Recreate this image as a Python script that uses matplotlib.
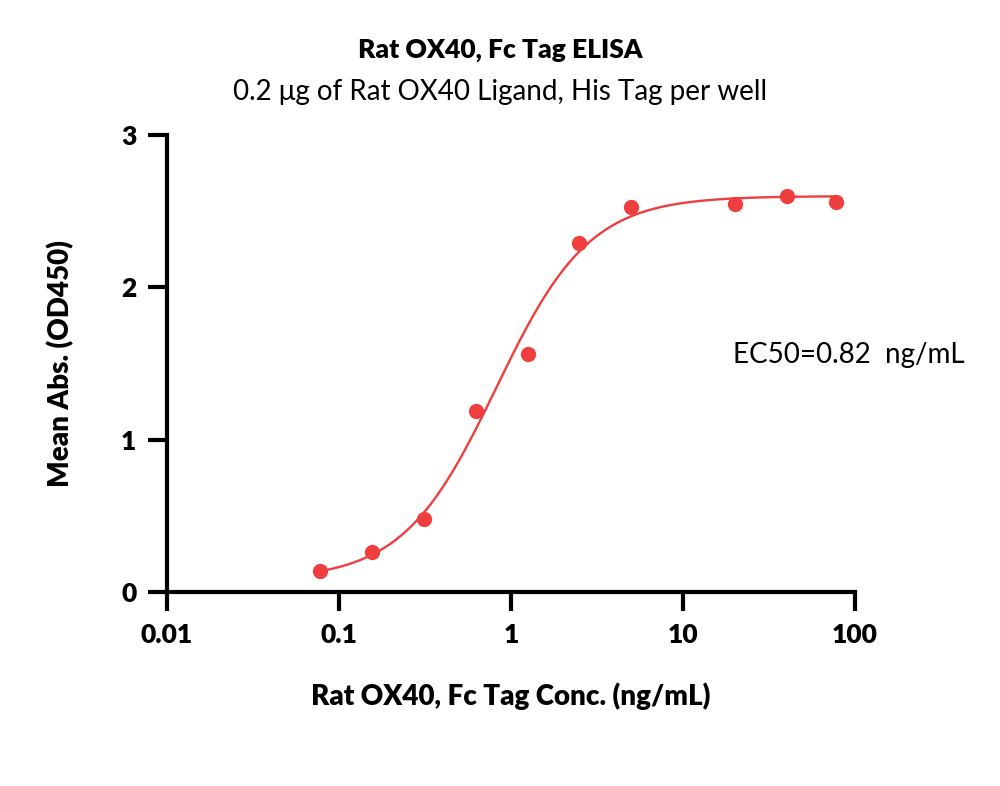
import numpy as np
import matplotlib
matplotlib.use('Agg')
import matplotlib.pyplot as plt
from matplotlib.ticker import FixedLocator, FixedFormatter, NullLocator

# concentration of Rat OX40, Fc Tag (ng/mL) and mean absorbance
conc = [0.078, 0.156, 0.3125, 0.625, 1.25, 2.5, 5, 20, 40, 78]
od450 = [0.14, 0.26, 0.48, 1.19, 1.56, 2.29, 2.53, 2.55, 2.60, 2.56]

# four parameter logistic fit
bottom = 0.08
top = 2.60
ec50 = 0.82
hill = 1.6

x_ticks = [0.01, 0.1, 1, 10, 100]
x_tick_labels = ['0.01', '0.1', '1', '10', '100']
y_ticks = [0, 1, 2, 3]

red = '#F03E3E'

plt.rcParams['font.family'] = ['Lato', 'DejaVu Sans']

fig = plt.figure(figsize=(10, 7.86), dpi=100)
ax = fig.add_axes([0.167, 0.2468, 0.688, 0.5812])

xfit = np.logspace(np.log10(conc[0]), np.log10(conc[-1]), 300)
yfit = bottom + (top - bottom) / (1 + (ec50 / xfit) ** hill)
ax.plot(xfit, yfit, color=red, lw=1.7, zorder=2)
ax.plot(conc, od450, 'o', color=red, ms=11, mec='none', zorder=3, clip_on=False)

ax.set_xscale('log')
ax.set_xlim(0.01, 100)
ax.set_ylim(0, 3)
ax.xaxis.set_major_locator(FixedLocator(x_ticks))
ax.xaxis.set_major_formatter(FixedFormatter(x_tick_labels))
ax.xaxis.set_minor_locator(NullLocator())
ax.set_yticks(y_ticks)

for side in ['top', 'right']:
    ax.spines[side].set_visible(False)
for side in ['left', 'bottom']:
    ax.spines[side].set_linewidth(3.0)
ax.tick_params(width=3.0, length=14, labelsize=19, pad=8)
for lab in ax.get_xticklabels() + ax.get_yticklabels():
    lab.set_fontweight('heavy')

ax.set_xlabel('Rat OX40, Fc Tag Conc. (ng/mL)', fontsize=20, fontweight='heavy', labelpad=26)
ax.set_ylabel('Mean Abs. (OD450)', fontsize=20, fontweight='heavy', labelpad=34)

fig.text(0.5, 0.936, 'Rat OX40, Fc Tag ELISA', ha='center', va='center',
         fontsize=19, fontweight='heavy')
fig.text(0.5, 0.883, '0.2 \u03bcg of Rat OX40 Ligand, His Tag per well', ha='center',
         va='center', fontsize=20)
ax.text(0.991, 0.519, 'EC50=0.82  ng/mL', transform=ax.transAxes, ha='center',
        va='center', fontsize=20)

fig.savefig('out.png', dpi=100)
